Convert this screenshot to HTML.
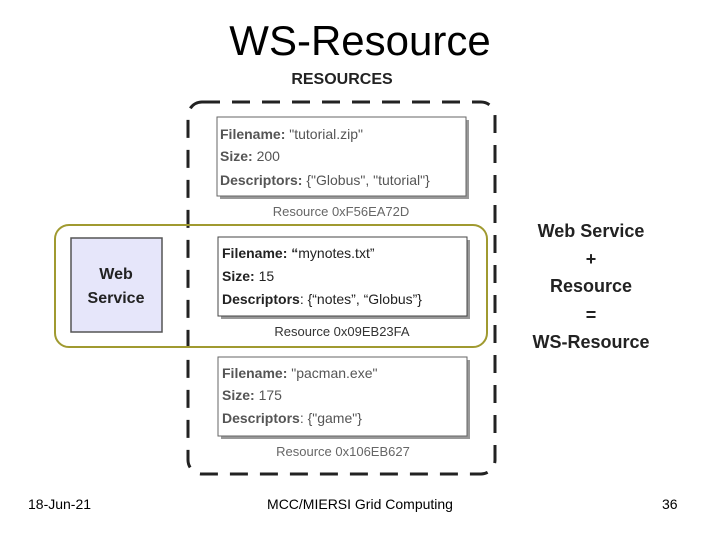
<!DOCTYPE html>
<html><head><meta charset="utf-8"><style>
html,body{margin:0;padding:0;background:#fff;width:720px;height:540px;overflow:hidden}
svg{display:block;font-family:"Liberation Sans",sans-serif}
</style></head><body>
<svg width="720" height="540" viewBox="0 0 720 540">
<text x="360" y="55" font-size="42" text-anchor="middle" fill="#000">WS-Resource</text>
<text x="342" y="84" font-size="16" font-weight="bold" text-anchor="middle" fill="#222">RESOURCES</text>
<rect x="188" y="102" width="307" height="372" rx="14" fill="none" stroke="#222" stroke-width="3" stroke-dasharray="18,12"/>
<rect x="55" y="225" width="432" height="122" rx="14" fill="none" stroke="#a09a30" stroke-width="2"/>
<rect x="71" y="238" width="91" height="94" fill="#e6e6fa" stroke="#555" stroke-width="1.5"/>
<text x="116" y="279" font-size="16" font-weight="bold" text-anchor="middle" fill="#222">Web</text>
<text x="116" y="303" font-size="16" font-weight="bold" text-anchor="middle" fill="#222">Service</text>
<g font-size="14" fill="#555">
<rect x="220" y="120" width="249" height="79" fill="#999"/>
<rect x="217" y="117" width="249" height="79" fill="#fff" stroke="#666" stroke-width="1"/>
<text x="220" y="139"><tspan font-weight="bold">Filename:</tspan> "tutorial.zip"</text>
<text x="220" y="161"><tspan font-weight="bold">Size:</tspan> 200</text>
<text x="220" y="185"><tspan font-weight="bold">Descriptors:</tspan> {"Globus", "tutorial"}</text>
<text x="341" y="216" font-size="13" text-anchor="middle" fill="#666">Resource 0xF56EA72D</text>
</g>
<g font-size="14" fill="#222">
<rect x="221" y="240" width="249" height="79" fill="#999"/>
<rect x="218" y="237" width="249" height="79" fill="#fff" stroke="#444" stroke-width="1"/>
<text x="222" y="258"><tspan font-weight="bold">Filename:</tspan> <tspan font-weight="bold">“</tspan>mynotes.txt”</text>
<text x="222" y="281"><tspan font-weight="bold">Size:</tspan> 15</text>
<text x="222" y="304"><tspan font-weight="bold">Descriptors</tspan>: {“notes”, “Globus”}</text>
<text x="342" y="336" font-size="13" text-anchor="middle" fill="#333">Resource 0x09EB23FA</text>
</g>
<g font-size="14" fill="#555">
<rect x="221" y="360" width="249" height="79" fill="#999"/>
<rect x="218" y="357" width="249" height="79" fill="#fff" stroke="#666" stroke-width="1"/>
<text x="222" y="378"><tspan font-weight="bold">Filename:</tspan> "pacman.exe"</text>
<text x="222" y="400"><tspan font-weight="bold">Size:</tspan> 175</text>
<text x="222" y="423"><tspan font-weight="bold">Descriptors</tspan>: {"game"}</text>
<text x="343" y="456" font-size="13" text-anchor="middle" fill="#666">Resource 0x106EB627</text>
</g>
<g font-size="18" font-weight="bold" text-anchor="middle" fill="#222">
<text x="591" y="237">Web Service</text>
<text x="591" y="265">+</text>
<text x="591" y="292">Resource</text>
<text x="591" y="321">=</text>
<text x="591" y="348">WS-Resource</text>
</g>
<g font-size="14" fill="#000">
<text x="28" y="509">18-Jun-21</text>
<text x="360" y="509" text-anchor="middle">MCC/MIERSI Grid Computing</text>
<text x="662" y="509">36</text>
</g>
</svg>
</body></html>
